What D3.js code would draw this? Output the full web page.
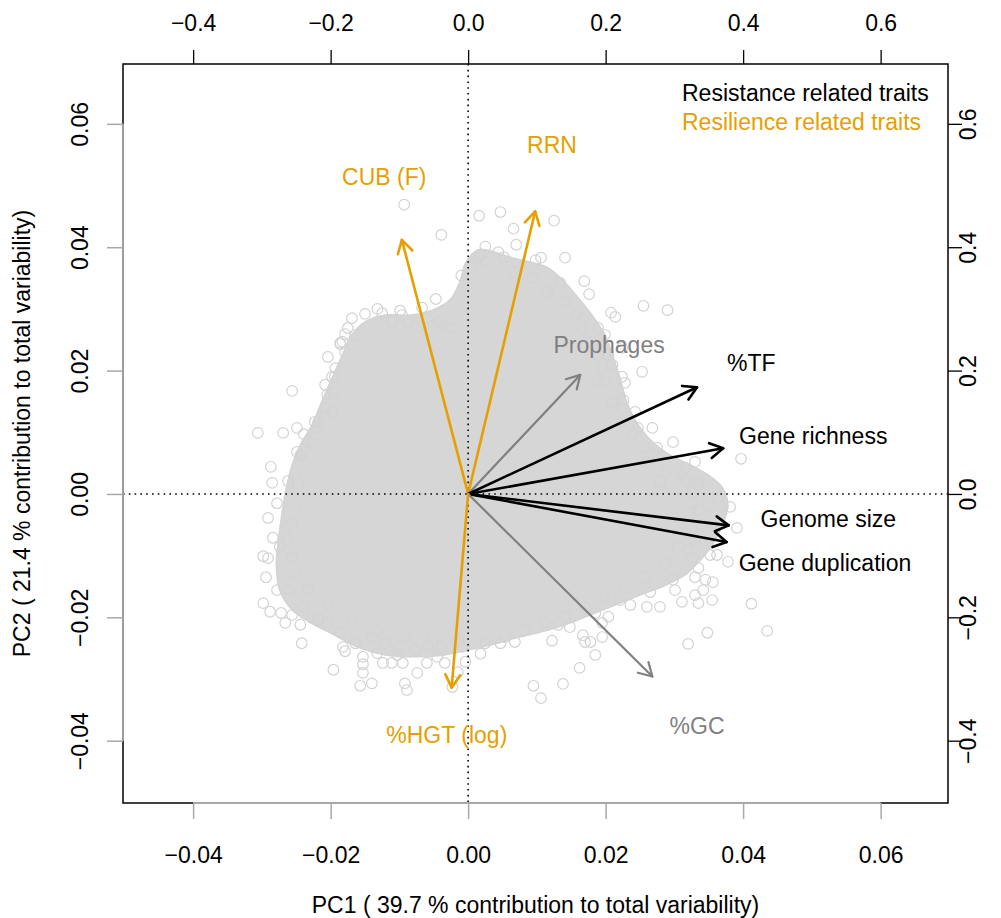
<!DOCTYPE html>
<html><head><meta charset="utf-8">
<script src="https://cdn.jsdelivr.net/npm/d3@7"></script>
<style>
body{margin:0;background:#fff}
text{font-family:"Liberation Sans",Arial,Helvetica,sans-serif}
</style></head>
<body><svg id="chart" width="1001" height="918"></svg>
<script>
// ---------- DATA ----------
// Sample scores (PC1, PC2), in units of 1e-3 (individually visible circles)
const pointsPC1_e3 = [-9.3,-3.9,-1.0,-4.7,-6.7,-16.9,-15.0,-13.2,-9.9,-20.4,-25.6,-30.6,-26.9,-24.9,-22.3,-28.7,-28.5,-26.2,-20.8,-19.4,-18.3,-17.9,-3.8,-6.0,-24.4,-22.7,-18.6,-23.9,-24.9,-19.6,-19.8,-22.0,
 -27.8,-29.1,-26.2,-28.4,-29.8,-29.1,-27.4,-29.4,-27.8,-29.8,-28.8,-27.2,-26.6,-24.4,-25.6,-24.0,-25.9,-24.2,-22.7,-21.8,-20.5,-18.6,-18.2,-19.6,-17.9,-16.4,-15.3,-15.3,-15.3,-15.7,-14.0,-12.4,-11.1,-9.5,-9.2,-8.9,-7.4,-6.0,-4.5,-3.4,-3.8,-1.5,-2.3,-0.9,-0.4,-14.0,-12.1,-10.2,-7.7,-5.8,-10.3,-13.2,
 1.8,4.7,6.8,9.5,10.6,13.8,16.2,18.5,17.0,12.2,8.3,13.1,14.8,14.1,16.7,17.8,19.5,19.5,18.5,20.4,22.1,23.6,26.0,27.9,26.5,30.1,31.1,33.0,33.5,35.5,34.2,35.6,34.5,33.0,29.8,33.5,32.6,35.2,36.2,37.8,32.0,33.0,34.0,34.9,37.0,38.1,39.1,41.2,34.8,32.0,43.5,32.6,36.4,32.6,
 1.6,4.7,6.6,12.5,7.0,2.5,5.2,10.6,14.1,1.5,13.4,16.9,17.6,11.2,25.5,29.0,20.8,21.4,16.0,18.9,19.9,22.4,20.4,21.0,25.3,22.4,22.8,18.9,21.1,22.6,22.4,24.3,24.7,26.8,29.8,27.5,26.0,28.7,31.6,33.0,39.7,31.6,33.5,27.9,1.8,0.3,9.8,
 -12.5,-11.1,-9.6,-8.7,-4.4,-3.3,-2.3,-0.4,-17.5,-16.4,-18.6,-17.9,-19.3,-19.8,-20.5,-20.8,-21.8,-23.3,-24.1,-25.2,-24.7,
 4.4,2.5,6.8,9.3,11.6,14.1,15.6,16.6,18.0,18.9,19.5,19.9,20.9,22.4,23.9,25.7,28.7,31.1,33.5,
 33.5,32.6,30.5,28.7,25.7,22.8,19.9,17.0,14.1,11.2,5.4,2.5,
 -1.5,-5.2,-9.2,-13.1,-16.9,-20.4,-23.3,-25.2,-25.6,-26.2,-25.6,-25.2];
const pointsPC2_e3 = [46.9,42.0,35.4,31.6,30.2,28.5,29.2,30.0,29.7,22.2,16.7,9.9,9.9,10.7,11.7,4.4,1.8,2.1,17.7,19.0,24.7,25.9,28.2,28.5,6.3,8.0,24.3,9.7,6.8,16.4,13.3,10.7,
 -1.5,-3.9,-5.2,-7.1,-10.1,-10.4,-8.6,-13.5,-15.6,-17.7,-19.1,-19.3,-20.9,-21.2,-19.6,-18.3,-15.6,-24.2,-20.1,-20.4,-20.8,-22.4,-24.8,-28.5,-25.5,-24.2,-26.4,-27.6,-29.0,-31.1,-30.7,-27.4,-27.4,-27.4,-30.7,-31.8,-29.0,-27.4,-26.4,-27.4,-24.8,-28.9,-31.3,-24.8,-27.2,-23.2,-24.2,-24.8,-25.3,-24.5,-26.1,-25.8,
 -25.9,-24.2,-24.0,-31.1,-33.1,-30.8,-28.2,-26.1,-24.0,-23.8,-22.1,-21.2,-21.6,-18.3,-22.9,-24.0,-23.2,-20.9,-19.3,-19.9,-17.2,-18.0,-18.3,-18.3,-15.9,-15.6,-17.5,-16.4,-17.7,-17.2,-15.6,-14.3,-13.9,-13.5,-13.9,-12.0,-10.4,-9.9,-9.9,-11.0,-9.1,-7.5,-5.0,-1.8,-2.1,-2.1,-5.5,-17.8,-22.5,-24.3,-22.2,-1.5,-0.7,0.2,
 45.1,45.7,43.0,44.3,40.4,40.1,38.4,38.3,38.3,38.3,34.2,34.5,32.4,32.6,30.5,29.8,29.4,28.7,29.5,26.9,25.8,23.7,22.5,20.9,19.8,19.0,18.0,18.2,16.1,15.2,13.9,13.3,10.7,10.7,8.4,7.5,5.2,3.6,4.2,5.2,5.7,2.3,2.0,2.0,38.8,36.7,37.9,
 29.3,27.9,29.0,27.9,27.9,27.1,26.9,30.6,26.9,25.8,24.5,23.0,20.4,19.0,16.1,13.9,11.7,8.4,6.3,3.1,1.5,
 39.2,37.6,36.0,35.0,32.8,31.1,29.0,26.9,24.6,22.5,20.4,18.2,14.9,11.7,9.6,7.5,5.2,3.1,1.5,
 -2.6,-5.8,-8.6,-11.2,-13.5,-15.1,-16.7,-18.3,-19.9,-20.9,-23.2,-24.2,
 -23.7,-23.7,-23.2,-22.1,-19.9,-17.7,-15.6,-12.8,-10.2,-7.5,-4.7,-2.1];

// Outline of the saturated core of the point cloud (PC1, PC2 in 1e-3)
const corePC1_e3 = [-0.3,1.5,3.9,6.4,9.0,11.6,13.7,16.0,18.0,19.9,21.0,22.1,23.0,24.3,26.5,29.4,32.3,34.9,37.0,37.8,37.0,35.5,33.8,31.6,28.7,25.0,21.4,17.8,14.1,10.5,6.8,3.2,0,-3.4,-7.7,-12.1,-15.7,-19.4,-23.0,-25.6,-27.4,-27.9,-27.6,-27.1,-26.5,-25.6,-24.4,-22.7,-21.2,-19.8,-18.3,-16.9,-15.0,-12.1,-8.4,-5.2,-2.6,-1.2];
const corePC2_e3 = [37.6,39.6,39.2,38.3,37.6,36.7,34.7,31.8,29.0,25.8,22.5,18.8,15.2,12.0,8.8,6.3,4.7,3.1,1.0,-1.8,-5.0,-8.3,-10.7,-13.1,-14.8,-16.4,-18.0,-19.6,-21.2,-22.4,-23.4,-24.5,-25.3,-26.1,-26.4,-26.1,-25.0,-22.9,-20.8,-18.8,-15.6,-11.5,-7.5,-3.4,0.7,4.7,8.0,11.2,15.2,18.8,22.5,25.8,27.9,29.0,29.0,29.8,31.5,34.4];

// Variable loadings (arrow ends) and label positions, in loading units (top / right axes)
const traits   = ["CUB (F)","RRN","Prophages","%TF","Gene richness","Genome size","Gene duplication","%GC","%HGT (log)"];
const traitGroup = ["resilience","resilience","other","resistance","resistance","resistance","resistance","other","resilience"];
const loadPC1  = [-0.0964,0.0975,0.163,0.333,0.371,0.379,0.376,0.268,-0.024];
const loadPC2  = [0.412,0.458,0.193,0.173,0.074,-0.051,-0.078,-0.296,-0.314];
const labelPC1 = [-0.122,0.122,0.205,0.412,0.502,0.524,0.519,0.333,-0.031];
const labelPC2 = [0.514,0.566,0.242,0.212,0.094,-0.041,-0.112,-0.376,-0.391];

const scoreTicksX = [-0.04,-0.02,0,0.02,0.04,0.06];
const scoreTicksY = [-0.04,-0.02,0,0.02,0.04,0.06];
const loadTicks   = [-0.4,-0.2,0,0.2,0.4,0.6];
const legendItems = ["Resistance related traits","Resilience related traits"];
const legendGroups = ["resistance","resilience"];
const xTitle = "PC1 ( 39.7 % contribution to total variability)";
const yTitle = "PC2 ( 21.4 % contribution to total variability)";

// ---------- DRAW ----------
const svg = d3.select("#chart");
const L = 123, R = 948, T = 64, B = 803;
const FS = 23;
const x = d3.scaleLinear().domain([-0.0502, 0.0698]).range([L, R]);
const y = d3.scaleLinear().domain([-0.0501, 0.0697]).range([B, T]);
const ratio = 10;
const x2 = d3.scaleLinear().domain(x.domain().map(v => v * ratio)).range([L, R]);
const y2 = d3.scaleLinear().domain(y.domain().map(v => v * ratio)).range([B, T]);
const color = d3.scaleOrdinal().domain(["resistance","resilience","other"]).range(["#000000","#E69F00","#808080"]);
const ptCol = "#d3d3d3";

svg.append("defs").append("clipPath").attr("id","clip")
  .append("rect").attr("x",L).attr("y",T).attr("width",R-L).attr("height",B-T);
const plot = svg.append("g").attr("clip-path","url(#clip)");

// dense core of the cloud
const core = d3.range(corePC1_e3.length).map(i => [corePC1_e3[i]/1000, corePC2_e3[i]/1000]);
plot.append("path")
  .attr("d", d3.line().x(d => x(d[0])).y(d => y(d[1])).curve(d3.curveCatmullRomClosed)(core))
  .attr("fill", "#d6d6d6").attr("stroke", ptCol).attr("stroke-width", 1.5);

// individual points
const pts = d3.range(pointsPC1_e3.length).map(i => [pointsPC1_e3[i]/1000, pointsPC2_e3[i]/1000]);
plot.selectAll("circle.pt").data(pts).join("circle").attr("class","pt")
  .attr("cx", d => x(d[0])).attr("cy", d => y(d[1])).attr("r", 5.3)
  .attr("fill","none").attr("stroke", ptCol).attr("stroke-width", 1.2);

// dotted zero lines
plot.append("line").attr("x1",L).attr("x2",R).attr("y1",y(0)).attr("y2",y(0))
  .attr("stroke","#000").attr("stroke-width",1.6).attr("stroke-dasharray","1.6,4.2");
plot.append("line").attr("x1",x(0)).attr("x2",x(0)).attr("y1",T).attr("y2",B)
  .attr("stroke","#000").attr("stroke-width",1.6).attr("stroke-dasharray","1.6,4.2");

// arrows
const ox = x2(0), oy = y2(0);
const arrows = svg.append("g");
traits.forEach((t, i) => {
  const tx = x2(loadPC1[i]), ty = y2(loadPC2[i]);
  const c = color(traitGroup[i]);
  const w = traitGroup[i] === "other" ? 2.2 : 2.6;
  const a = Math.atan2(ty - oy, tx - ox), hl = 15, ha = Math.PI / 6;
  const g = arrows.append("g").attr("stroke", c).attr("stroke-width", w)
    .attr("stroke-linecap","round").attr("stroke-linejoin","round").attr("fill","none");
  g.append("line").attr("x1",ox).attr("y1",oy).attr("x2",tx).attr("y2",ty);
  g.append("path").attr("d",
    `M${tx - hl*Math.cos(a - ha)},${ty - hl*Math.sin(a - ha)}L${tx},${ty}L${tx - hl*Math.cos(a + ha)},${ty - hl*Math.sin(a + ha)}`);
  svg.append("text").attr("x", x2(labelPC1[i])).attr("y", y2(labelPC2[i])).attr("dy","0.35em")
    .attr("text-anchor","middle").attr("font-size", FS).attr("fill", c).text(t);
});

// box
svg.append("rect").attr("x",L).attr("y",T).attr("width",R-L).attr("height",B-T)
  .attr("fill","none").attr("stroke","#000").attr("stroke-width",1.5);

// bottom axis (scores)
const axCol = "#a8a8a8";
const gb = svg.append("g").attr("transform",`translate(0,${B})`)
  .call(d3.axisBottom(x).tickValues(scoreTicksX).tickSize(16).tickPadding(28).tickFormat(d3.format(".2f")));
gb.select(".domain").remove();
gb.selectAll(".tick line").attr("stroke",axCol).attr("stroke-width",1.5);
gb.append("line").attr("x1",x(scoreTicksX[0])).attr("x2",x(scoreTicksX[scoreTicksX.length-1])).attr("stroke",axCol).attr("stroke-width",1.8);
gb.selectAll("text").attr("font-size",FS).attr("fill","#000").attr("font-family",null);

// left axis (scores)
const gl = svg.append("g").attr("transform",`translate(${L},0)`)
  .call(d3.axisLeft(y).tickValues(scoreTicksY).tickSize(16).tickFormat(d3.format(".2f")));
gl.select(".domain").remove();
gl.selectAll(".tick line").attr("stroke",axCol).attr("stroke-width",1.5);
gl.append("line").attr("y1",y(scoreTicksY[0])).attr("y2",y(scoreTicksY[scoreTicksY.length-1])).attr("stroke",axCol).attr("stroke-width",1.8);
gl.selectAll("text").attr("font-size",FS).attr("fill","#000").attr("font-family",null)
  .attr("x",null).attr("dy","0.35em").attr("text-anchor","middle").attr("transform","translate(-43,0) rotate(-90)");

// top axis (loadings)
const gt = svg.append("g").attr("transform",`translate(0,${T})`)
  .call(d3.axisTop(x2).tickValues(loadTicks).tickSize(14).tickPadding(19).tickFormat(d3.format(".1f")));
gt.select(".domain").remove();
gt.selectAll(".tick line").attr("stroke","#000").attr("stroke-width",1.3);
gt.selectAll("text").attr("font-size",FS).attr("fill","#000").attr("font-family",null);

// right axis (loadings)
const gr = svg.append("g").attr("transform",`translate(${R},0)`)
  .call(d3.axisRight(y2).tickValues(loadTicks).tickSize(14).tickFormat(d3.format(".1f")));
gr.select(".domain").remove();
gr.selectAll(".tick line").attr("stroke","#000").attr("stroke-width",1.3);
gr.selectAll("text").attr("font-size",FS).attr("fill","#000").attr("font-family",null)
  .attr("x",null).attr("dy","0.35em").attr("text-anchor","middle").attr("transform","translate(20,0) rotate(-90)");

// legend
legendItems.forEach((t, i) => {
  svg.append("text").attr("x",682).attr("y",93 + i*29).attr("dy","0.35em")
    .attr("font-size",FS).attr("fill",color(legendGroups[i])).text(t);
});

// titles
svg.append("text").attr("x",(L+R)/2).attr("y",905).attr("dy","0.35em").attr("text-anchor","middle")
  .attr("font-size",FS).text(xTitle);
svg.append("text").attr("transform",`translate(22,${(T+B)/2}) rotate(-90)`).attr("dy","0.35em")
  .attr("text-anchor","middle").attr("font-size",FS).text(yTitle);
</script></body></html>
